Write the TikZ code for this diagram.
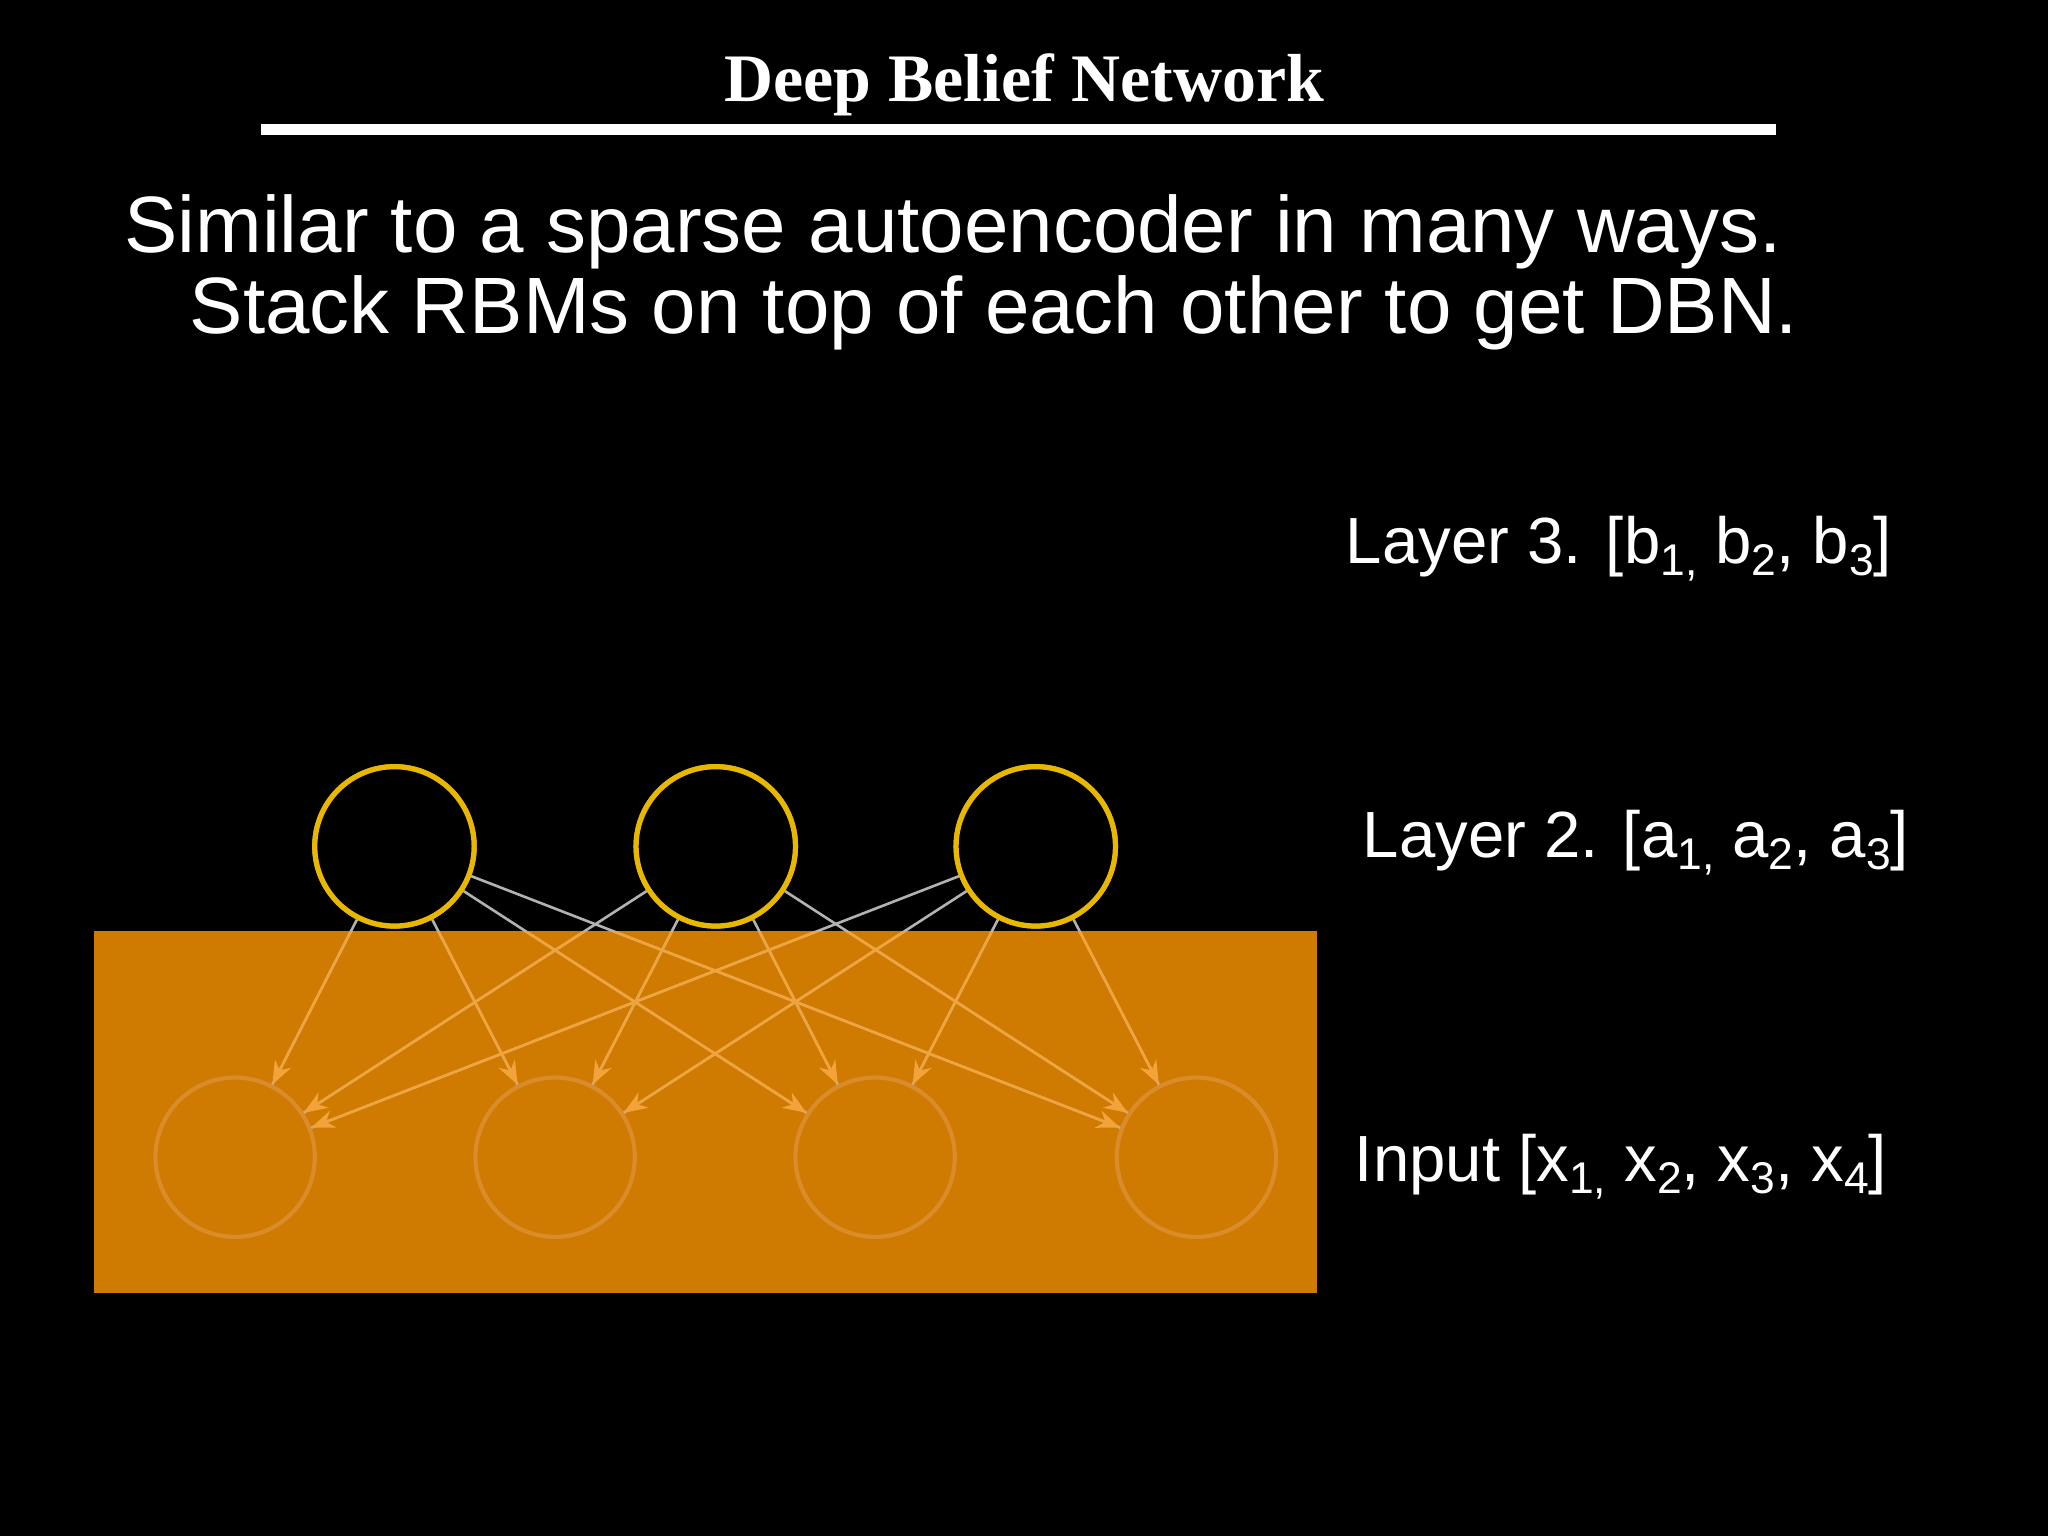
\documentclass[tikz,border=0pt]{standalone}
\usepackage{fontspec}
\setmainfont{Liberation Sans}
\newfontfamily\serifb{Liberation Serif}
\usetikzlibrary{arrows.meta}
\definecolor{orng}{HTML}{CF7A00}
\definecolor{yel}{HTML}{E8B800}
\definecolor{lorng}{HTML}{F2A43A}
\definecolor{bcirc}{HTML}{DB8C2A}
\newcommand{\sbx}[1]{\raisebox{-0.35ex}{\fontsize{17}{19}\selectfont #1}}
\tikzset{
  txt/.style={text=white,font=\fontsize{30.6}{32}\selectfont,inner sep=0pt},
  lab/.style={text=white,font=\fontsize{25}{27}\selectfont,anchor=west,inner sep=0pt},
  topn/.style={circle,draw=yel,line width=2pt,fill=black,minimum size=61pt,inner sep=0pt},
  botn/.style={circle,draw=bcirc,line width=1.6pt,minimum size=61pt,inner sep=0pt},
  wline/.style={draw=gray!60!white,line width=1pt},
  oline/.style={draw=lorng,line width=1pt,-{Stealth[length=9pt,width=7pt]}}
}
\begin{document}
\begin{tikzpicture}[x=0.5pt,y=-0.5pt]
\fill[black] (0,0) rectangle (1568,1176);
\useasboundingbox (0,0) rectangle (1568,1176);
\node[text=white,font=\serifb\bfseries\fontsize{26}{28}\selectfont] (title) at (784,65) {Deep Belief Network};
\draw[white,line width=4pt] (200,99) -- (1360,99);
\node[txt,anchor=base west] (l1) at (95,193) {Similar to a sparse autoencoder in many ways.};
\node[txt,anchor=base west] (l2) at (145,255) {Stack RBMs on top of each other to get DBN.};
\node[lab] (L3) at (1030,420) {Layer 3. [b\sbx{1,} b\sbx{2}, b\sbx{3}]};
\node[lab] (L2) at (1043,645) {Layer 2. [a\sbx{1,} a\sbx{2}, a\sbx{3}]};
\node[lab] (L1) at (1037,893) {Input [x\sbx{1,} x\sbx{2}, x\sbx{3}, x\sbx{4}]};
\fill[orng] (72,713) rectangle (1008,990);
\foreach \i/\x in {1/302,2/548,3/793} \node[topn] (t\i) at (\x,648) {};
\foreach \i/\x in {1/180,2/425,3/670,4/916} \node[botn] (b\i) at (\x,886) {};
\foreach \i in {1,2,3} \foreach \j in {1,2,3,4} \draw[wline] (t\i) -- (b\j);
\begin{scope}
\clip (72,713) rectangle (1008,990);
\foreach \i in {1,2,3} \foreach \j in {1,2,3,4} \draw[oline] (t\i) -- (b\j);
\end{scope}
\foreach \i/\x in {1/302,2/548,3/793} \node[topn] at (\x,648) {};
\end{tikzpicture}
\end{document}
